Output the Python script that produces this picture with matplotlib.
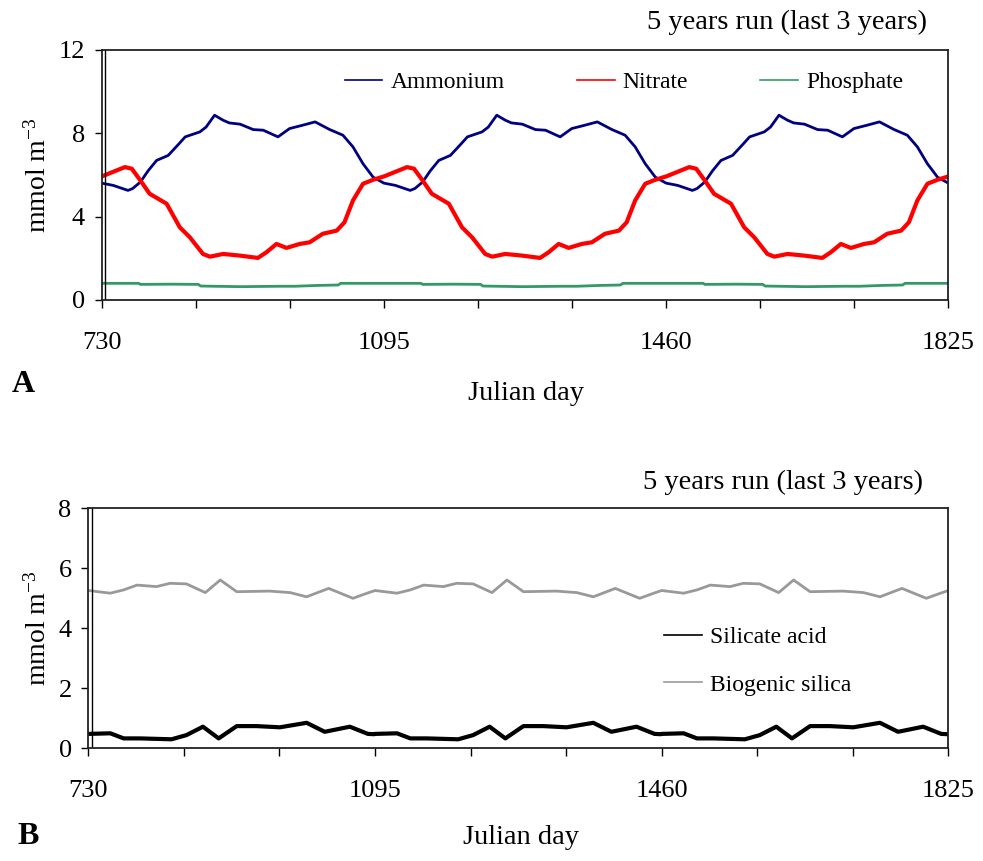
import numpy as np
import matplotlib
matplotlib.use("Agg")
import matplotlib.pyplot as plt
from matplotlib.lines import Line2D

plt.rcParams["font.family"] = "Liberation Serif"
plt.rcParams["mathtext.fontset"] = "custom"
plt.rcParams["mathtext.rm"] = "Liberation Serif"
plt.rcParams["mathtext.it"] = "Liberation Serif:italic"

# start day of each of the last 3 model years (the seasonal cycle repeats)
year_starts = [730, 1095, 1460]

amm_t = [0, 15, 34, 40, 50, 60, 71, 86, 100, 108, 127, 135, 146, 157, 165, 179,
         196, 209, 228, 243, 260, 276, 295, 312, 325, 338, 351, 364]
amm_v = [5.61, 5.50, 5.26, 5.35, 5.66, 6.20, 6.70, 6.94, 7.50, 7.83, 8.07, 8.30,
         8.87, 8.63, 8.50, 8.44, 8.18, 8.15, 7.83, 8.23, 8.39, 8.55, 8.18, 7.91,
         7.35, 6.54, 5.90, 5.63]

nit_t = [0, 30, 39, 50, 62, 84, 101, 114, 131, 140, 157, 179, 202, 213, 226, 239,
         256, 269, 286, 304, 314, 325, 338, 351, 364]
nit_v = [5.93, 6.38, 6.30, 5.74, 5.10, 4.62, 3.49, 3.01, 2.21, 2.08, 2.21, 2.13,
         2.02, 2.29, 2.69, 2.50, 2.69, 2.77, 3.18, 3.33, 3.73, 4.78, 5.58, 5.77, 5.92]

pho_t = [0, 48, 50, 90, 125, 128, 180, 230, 250, 280, 306, 309, 364]
pho_v = [0.80, 0.80, 0.75, 0.76, 0.75, 0.67, 0.64, 0.66, 0.66, 0.70, 0.72, 0.80, 0.80]

sil_t = [0, 28, 45, 66, 106, 125, 146, 166, 189, 214, 244, 278, 301, 333, 356, 364]
sil_v = [0.48, 0.50, 0.33, 0.33, 0.30, 0.44, 0.72, 0.33, 0.74, 0.74, 0.70, 0.85,
         0.55, 0.72, 0.48, 0.47]

bsi_t = [0, 28, 45, 62, 87, 104, 125, 149, 168, 189, 231, 257, 278, 306, 337, 355, 364]
bsi_v = [5.26, 5.17, 5.28, 5.44, 5.39, 5.50, 5.48, 5.19, 5.61, 5.22, 5.24, 5.19,
         5.05, 5.33, 5.00, 5.17, 5.25]

x_ticks = np.linspace(730, 1825, 10)
x_labels = ["730", "", "", "1095", "", "", "1460", "", "", "1825"]


def three_years(t, v):
    days = np.concatenate([np.array(t) + s for s in year_starts])
    vals = np.concatenate([v] * len(year_starts))
    return days, vals


W, H = 983, 861
fig = plt.figure(figsize=(W / 100, H / 100), dpi=100)


def fx(px):
    return px / W


def fy(py):
    return 1 - py / H


def style_axes(ax, yticks, ymax):
    ax.set_xlim(730, 1825)
    ax.set_ylim(0, ymax)
    ax.set_xticks(x_ticks)
    ax.set_xticklabels(x_labels)
    ax.set_yticks(yticks)
    ax.tick_params(axis="x", direction="out", length=6, width=1, labelsize=19, pad=17)
    ax.tick_params(axis="y", direction="out", length=5, width=1, labelsize=19, pad=7)
    for s in ax.spines.values():
        s.set_linewidth(1.3)
        s.set_color("#222222")
    ax.axvline(734.5, color="black", lw=1)
    ax.set_ylabel("mmol m$^{-3}$", fontsize=20)


# Panel A
left_a, right_a = 101.7, 948.3
axA = fig.add_axes([fx(left_a), fy(300), (right_a - left_a) / W, 250 / H])
d, v = three_years(pho_t, pho_v)
axA.plot(d, v, color="#339966", lw=2)
d, v = three_years(amm_t, amm_v)
axA.plot(d, v, color="#000080", lw=2)
d, v = three_years(nit_t, nit_v)
axA.plot(d, v, color="#ff0000", lw=3)
style_axes(axA, [0, 4, 8, 12], 12)
axA.yaxis.set_label_coords((52 - left_a) / (right_a - left_a), 0.5)

hA = [Line2D([], [], color="#000080", lw=1.2),
      Line2D([], [], color="#ff0000", lw=1.2),
      Line2D([], [], color="#339966", lw=1.2)]
axA.legend(hA, ["Ammonium", "Nitrate", "Phosphate"], ncol=3, frameon=False,
           fontsize=17, handlelength=1.6, handletextpad=0.35, columnspacing=3.05,
           loc="center", bbox_to_anchor=(fx(624), fy(82)), bbox_transform=fig.transFigure)

# Panel B
left_b, right_b = 88.3, 948.3
axB = fig.add_axes([fx(left_b), fy(748.3), (right_b - left_b) / W, 240 / H])
d, v = three_years(bsi_t, bsi_v)
axB.plot(d, v, color="#999999", lw=2)
d, v = three_years(sil_t, sil_v)
axB.plot(d, v, color="black", lw=3)
style_axes(axB, [0, 2, 4, 6, 8], 8)
axB.yaxis.set_label_coords((52 - left_b) / (right_b - left_b), 0.5)

hB = [Line2D([], [], color="black", lw=1.2),
      Line2D([], [], color="#999999", lw=1.2)]
axB.legend(hB, ["Silicate acid", "Biogenic silica"], ncol=1, frameon=False,
           fontsize=17, handlelength=1.6, handletextpad=0.35, labelspacing=1.1,
           loc="center", bbox_to_anchor=(fx(758), fy(661)), bbox_transform=fig.transFigure)

# free text
fig.text(fx(787), fy(22), "5 years run (last 3 years)", fontsize=20.5,
         ha="center", va="center")
fig.text(fx(783), fy(482), "5 years run (last 3 years)", fontsize=20.5,
         ha="center", va="center")
fig.text(fx(526), fy(393), "Julian day", fontsize=20.5, ha="center", va="center")
fig.text(fx(521), fy(838), "Julian day", fontsize=20.5, ha="center", va="center")
fig.text(fx(12), fy(385), "A", fontsize=23, fontweight="bold", ha="left", va="center")
fig.text(fx(17), fy(837), "B", fontsize=23, fontweight="bold", ha="left", va="center")

fig.savefig("out.png", dpi=100)
